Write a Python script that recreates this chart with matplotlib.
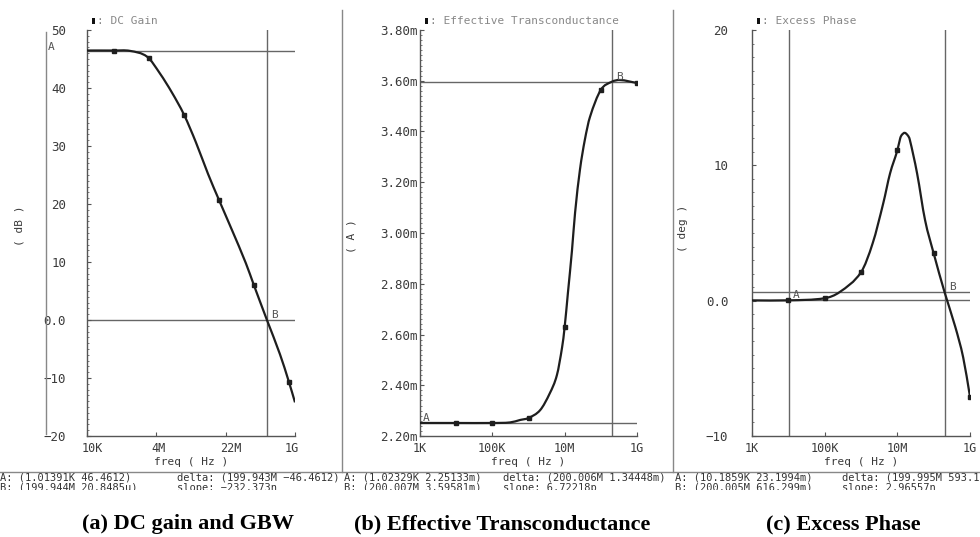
import numpy as np
import matplotlib
matplotlib.use("Agg")
import matplotlib.pyplot as plt
from matplotlib.lines import Line2D
from matplotlib.patches import Rectangle, PathPatch
from matplotlib.path import Path
from matplotlib.ticker import MultipleLocator, NullLocator
from matplotlib.transforms import ScaledTranslation

# ---- (a) DC gain (dB) vs frequency ----
gain_f = [1.0e3, 1.0e4, 2.8e4, 8.5e4, 1.96e5, 4.27e5, 9.3e5, 2.02e6, 4.4e6, 8.96e6,
          2.08e7, 5.1e7, 8.6e7, 1.99944e8, 4.64e8, 8.32e8, 1.23e9]
gain_db = [46.46, 46.46, 46.4, 45.4, 42.5, 39.2, 35.4, 30.6, 25.2, 20.7,
           15.5, 9.8, 6.0, 0.0, -5.9, -10.7, -14.2]
gain_mk_f = [1e4, 9.6e4, 9.3e5, 8.96e6, 8.6e7, 8.32e8]
gain_mk_v = [46.46, 45.2, 35.4, 20.7, 6.0, -10.7]

# ---- (b) effective transconductance (mA) ----
gm_f = [1.0e3, 1.0e4, 1.0e5, 3.1e5, 5.8e5, 1.0e6, 2.1e6, 3.9e6, 6.1e6, 8.5e6, 1.0e7,
        1.23e7, 1.59e7, 1.94e7, 2.65e7, 3.6e7, 5.0e7, 1.0e8, 2.00007e8, 3.4e8, 1.0e9]
gm_ma = [2.25133, 2.2513, 2.2513, 2.2535, 2.263, 2.271, 2.302, 2.369, 2.44, 2.55, 2.630,
         2.764, 2.93, 3.08, 3.25, 3.366, 3.457, 3.564, 3.59581, 3.603, 3.591]
gm_mk_f = [1e4, 1e5, 1e6, 1e7, 1e8, 1e9]
gm_mk_v = [2.2513, 2.2513, 2.271, 2.630, 3.564, 3.591]

# ---- (c) excess phase (deg) ----
ph_f = [1.0e3, 1.01859e4, 1.0e5, 2.6e5, 1.0e6, 2.1e6, 4.1e6, 6.3e6, 1.0e7, 1.2e7,
        1.33e7, 1.6e7, 1.95e7, 2.2e7, 3.5e7, 5.8e7, 1.0e8, 2.00005e8, 3.9e8, 6.5e8, 1.0e9]
ph_deg = [0.02, 0.0232, 0.18, 0.64, 2.1, 4.25, 7.2, 9.4, 11.1, 12.0,
          12.25, 12.4, 12.2, 11.9, 9.4, 5.95, 3.5, 0.6163, -1.9, -4.2, -7.1]
ph_mk_f = [1e4, 1e5, 1e6, 1e7, 1e8, 1e9]
ph_mk_v = [0.0232, 0.18, 2.1, 11.1, 3.5, -7.1]

W, H = 980, 537
fig = plt.figure(figsize=(W / 100, H / 100), dpi=100)
fig.patch.set_facecolor("white")

MONO = "DejaVu Sans Mono"
AXC = "#555555"
TXC = "#3a3a3a"


def fx(x):
    return x / W


def fy(y):
    return 1 - y / H


def make_ax(l, r, t, b):
    ax = fig.add_axes([fx(l), fy(b), (r - l) / W, (b - t) / H])
    ax.set_facecolor("white")
    for s in ("top", "right"):
        ax.spines[s].set_visible(False)
    for s in ("left", "bottom"):
        ax.spines[s].set_color(AXC)
        ax.spines[s].set_linewidth(1.0)
    ax.set_xscale("log")
    ax.tick_params(which="major", direction="in", length=3, width=0.8,
                   colors=AXC, labelcolor=TXC)
    ax.tick_params(which="minor", direction="in", length=1.5, width=0.7, colors="#777777")
    ax.tick_params(axis="x", pad=4)
    return ax


def set_labels(ax, xt, xl, yt, yl, ypad):
    ax.set_xticks(xt)
    ax.set_xticklabels(xl, family=MONO, fontsize=8.5, color=TXC)
    ax.xaxis.set_minor_locator(NullLocator())
    ax.set_yticks(yt)
    ax.set_yticklabels(yl, family=MONO, fontsize=9, color=TXC)
    ax.tick_params(axis="y", pad=ypad)
    ax.set_xlabel("freq ( Hz )", family=MONO, fontsize=8, color=TXC, labelpad=2)


def cursor_lines(ax, hv, vv):
    for v in hv:
        ax.axhline(v, color="#666666", lw=1.0, zorder=1)
    for v in vv:
        ax.axvline(v, color="#666666", lw=1.0, zorder=1)


def curve(ax, f, v, mf, mv):
    # cubic Hermite segments in (log f, v), handed to matplotlib as a Bezier path
    x = np.log10(f)
    y = np.asarray(v, dtype=float)
    n = len(x)
    m = np.empty(n)
    m[0] = (y[1] - y[0]) / (x[1] - x[0])
    m[-1] = (y[-1] - y[-2]) / (x[-1] - x[-2])
    for i in range(1, n - 1):
        m[i] = (y[i + 1] - y[i - 1]) / (x[i + 1] - x[i - 1])
    verts = [(x[0], y[0])]
    codes = [Path.MOVETO]
    for i in range(n - 1):
        dx = x[i + 1] - x[i]
        verts += [(x[i] + dx / 3, y[i] + m[i] * dx / 3),
                  (x[i + 1] - dx / 3, y[i + 1] - m[i + 1] * dx / 3),
                  (x[i + 1], y[i + 1])]
        codes += [Path.CURVE4] * 3
    verts = [(10 ** a, b) for a, b in verts]
    ax.add_patch(PathPatch(Path(verts, codes), fill=False, edgecolor="#1e1e1e",
                           lw=1.6, zorder=3))
    ax.plot(mf, mv, ls="none", marker="s", ms=2.6, color="#1e1e1e", zorder=4)


def tag(ax, s, x, y, dx, dy):
    ax.annotate(s, xy=(x, y), xytext=(dx, dy), textcoords="offset points",
                family=MONO, fontsize=8, color="#555555", ha="left", va="bottom",
                annotation_clip=False)


# ---- panel (a) ----
ax1 = make_ax(87, 295, 30, 436)
ax1.set_xlim(1.74e3, 1.23e9)
ax1.set_ylim(-20, 50)
lo, hi = np.log10(1.74e3), np.log10(1.23e9)
a_ticks = [10 ** (lo + (hi - lo) * k / 3) for k in range(4)]
set_labels(ax1, a_ticks, ["10K", "4M", "22M", "1G"],
           [50, 40, 30, 20, 10, 0, -10, -20],
           ["50", "40", "30", "20", "10", "0.0", "\u221210", "\u221220"], 15)
ax1.yaxis.set_minor_locator(MultipleLocator(1))
xl = ax1.get_xticklabels()
for lab, shift in zip(xl, [5, 2, 5, -3]):
    lab.set_transform(lab.get_transform() + ScaledTranslation(shift / 100, 0,
                                                              fig.dpi_scale_trans))
cursor_lines(ax1, [46.4612, 20.8485e-6], [199.944e6])
curve(ax1, gain_f, gain_db, gain_mk_f, gain_mk_v)
tag(ax1, "B", 199.944e6, 0.0, 3, 0)
fig.text(fx(48), fy(47), "A", family=MONO, fontsize=8, color="#555555", va="center")

# ---- panel (b) ----
ax2 = make_ax(420, 637, 30, 436)
ax2.set_xlim(1e3, 1e9)
ax2.set_ylim(2.2, 3.8)
gm_ticks = [2.2 + 0.2 * i for i in range(9)]
set_labels(ax2, [1e3, 1e5, 1e7, 1e9], ["1K", "100K", "10M", "1G"],
           gm_ticks, ["%.2fm" % t for t in gm_ticks], 2)
ax2.yaxis.set_minor_locator(MultipleLocator(0.02))
cursor_lines(ax2, [2.25133, 3.59581], [200.007e6])
curve(ax2, gm_f, gm_ma, gm_mk_f, gm_mk_v)
tag(ax2, "A", 1.02329e3, 2.25133, 2, 0)
tag(ax2, "B", 200.007e6, 3.59581, 3, 0)

# ---- panel (c) ----
ax3 = make_ax(752, 970, 30, 436)
ax3.set_xlim(1e3, 1e9)
ax3.set_ylim(-10, 20)
set_labels(ax3, [1e3, 1e5, 1e7, 1e9], ["1K", "100K", "10M", "1G"],
           [20, 10, 0, -10], ["20", "10", "0.0", "\u221210"], 17)
ax3.yaxis.set_minor_locator(MultipleLocator(1))
cursor_lines(ax3, [0.0231994, 0.616299], [10.1859e3, 200.005e6])
curve(ax3, ph_f, ph_deg, ph_mk_f, ph_mk_v)
tag(ax3, "A", 10.1859e3, 0.0232, 3, 0)
tag(ax3, "B", 200.005e6, 0.616, 3, 0)

# y-axis unit labels
for x, y, s in [(20, 226, "( dB )"), (352, 236, "( A )"), (683, 228, "( deg )")]:
    fig.text(fx(x), fy(y), s, rotation=90, family=MONO, fontsize=8, color=TXC,
             ha="center", va="center")

# trace legends above each plot
for x, s in [(92, "DC Gain"), (425, "Effective Transconductance"), (757, "Excess Phase")]:
    fig.add_artist(Rectangle((fx(x), fy(24)), 3 / W, 6 / H, transform=fig.transFigure,
                             facecolor="#111111", edgecolor="none"))
    fig.text(fx(x + 5), fy(21), ": " + s, family=MONO, fontsize=8, color="#888888",
             va="center")

# window frame lines
frame = [((46, 46), (32, 434)), ((342, 342), (10, 472)), ((673, 673), (10, 472)),
         ((0, 980), (472, 472))]
for xs, ys in frame:
    fig.add_artist(Line2D([fx(v) for v in xs], [fy(v) for v in ys],
                          transform=fig.transFigure, color="#888888", lw=1.0))

# cursor readouts
readouts = [
    (0, "A: (1.01391K 46.4612)", "B: (199.944M 20.8485u)"),
    (177, "delta: (199.943M \u221246.4612)", "slope: \u2212232.373n"),
    (344, "A: (1.02329K 2.25133m)", "B: (200.007M 3.59581m)"),
    (503, "delta: (200.006M 1.34448m)", "slope: 6.72218p"),
    (675, "A: (10.1859K 23.1994m)", "B: (200.005M 616.299m)"),
    (842, "delta: (199.995M 593.1m)", "slope: 2.96557n"),
]
for x, r1, r2 in readouts:
    fig.text(fx(x), fy(477), r1, family=MONO, fontsize=7.5, color="#333333", va="center")
    fig.text(fx(x), fy(488), r2, family=MONO, fontsize=7.5, color="#333333", va="center")

# the readout window is cut off just below the second row
fig.add_artist(Rectangle((0, fy(502)), 1, 12 / H, transform=fig.transFigure,
                         facecolor="white", edgecolor="none", zorder=10))

# sub-figure captions
for x, s in [(188, "(a) DC gain and GBW"), (502, "(b) Effective Transconductance"),
             (843, "(c) Excess Phase")]:
    fig.text(fx(x), fy(524), s, family="Liberation Serif", weight="bold", fontsize=16,
             color="black", ha="center", va="center")

fig.savefig("out.png", dpi=100)
